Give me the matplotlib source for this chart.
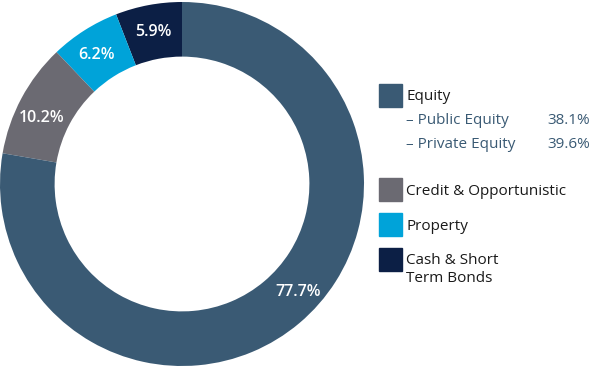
import numpy as np
import matplotlib.pyplot as plt
from matplotlib.patches import Rectangle

# data
labels = ['Cash & Short\nTerm Bonds', 'Property', 'Credit & Opportunistic', 'Equity']
values = [5.9, 6.2, 10.2, 77.7]
colors = ['#0c1f45', '#00a3d9', '#6b6a72', '#3a5a74']
sub_labels = ['– Public Equity', '– Private Equity']
sub_values = [38.1, 39.6]

W, H = 593, 369
plt.rcParams['font.family'] = ['Open Sans', 'DejaVu Sans']
fig = plt.figure(figsize=(W / 100, H / 100), dpi=100)

# donut
cx, cy, r = 182, 184, 182
ax = fig.add_axes([(cx - r) / W, (H - cy - r) / H, 2 * r / W, 2 * r / H])
wedges, _ = ax.pie(values, colors=colors, startangle=90, counterclock=True,
                   radius=1, wedgeprops=dict(width=0.30, edgecolor='none'))
ax.set_xlim(-1, 1)
ax.set_ylim(-1, 1)
ax.set_aspect('equal')
ax.axis('off')

# value labels, placed near the middle of each wedge
nudge = [0, 1, 3, 7]
label_r = [0.85, 0.85, 0.85, 0.87]
for v, w, dn, rr in zip(values, wedges, nudge, label_r):
    a = np.deg2rad((w.theta1 + w.theta2) / 2 + dn)
    ax.text(rr * np.cos(a), rr * np.sin(a), f'{v}%', color='white',
            ha='center', va='center', fontsize=11.5, fontweight='semibold')


def px(x, y):
    return x / W, 1 - y / H


# legend
legend_tops = [248, 213, 178, 84]
text_y = [[261, 278], [226], [191], [97]]
for lab, col, top, tys in zip(labels, colors, legend_tops, text_y):
    fig.patches.append(Rectangle(px(379, top + 23), 23 / W, 23 / H, color=col,
                                 transform=fig.transFigure, figure=fig))
    for line, ty in zip(lab.split('\n'), tys):
        fig.text(*px(406, ty), line, ha='left', va='center', fontsize=11, color='#1a1a1a')

for sl, sv, ty in zip(sub_labels, sub_values, [120, 144]):
    fig.text(*px(406, ty), sl, ha='left', va='center', fontsize=11, color='#3a5a74')
    fig.text(*px(547, ty), f'{sv}%', ha='left', va='center', fontsize=11, color='#3a5a74')

fig.savefig('out.png', dpi=100)
